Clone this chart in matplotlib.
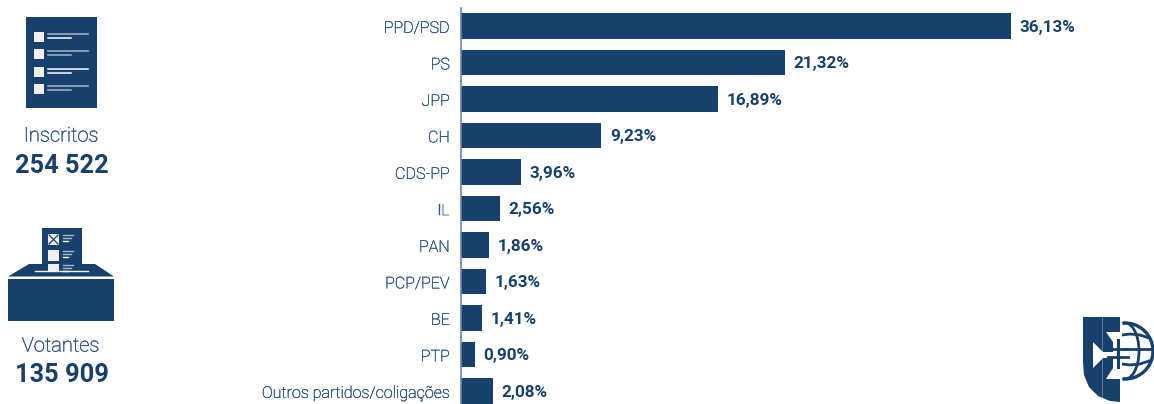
#!/usr/bin/env python
#coding:utf-8

import matplotlib as mpl
mpl.use('Agg')
from matplotlib import pyplot as plt
from matplotlib import patheffects as pe
from matplotlib.patches import Rectangle, Polygon, Arc
from matplotlib.transforms import ScaledTranslation

partidos = ['PPD/PSD', 'PS', 'JPP', 'CH', 'CDS-PP', 'IL', 'PAN', 'PCP/PEV', 'BE', 'PTP',
            'Outros partidos/coligações']
votos = [36.13, 21.32, 16.89, 9.23, 3.96, 2.56, 1.86, 1.63, 1.41, 0.90, 2.08]
inscritos = '254 522'
votantes = '135 909'

AZUL = '#17406d'
TEXTO = '#2f5480'
W, H = 1154, 404

mpl.rcParams['font.family'] = ['Roboto', 'DejaVu Sans']

fig = plt.figure(figsize=(W / 100, H / 100), dpi=100)

# o Roboto Light sai demasiado claro, um traco fino compensa
reforco = [pe.withStroke(linewidth=0.3, foreground=TEXTO)]

# camada de fundo em pixels, para os icones e os totais
bg = fig.add_axes([0, 0, 1, 1])
bg.set_xlim(0, W)
bg.set_ylim(H, 0)
bg.axis('off')

# icone inscritos
cores = [('#a9b6c6', '#ffffff'), ('#a9b6c6', '#a9b6c6'), ('#ffffff', '#ffffff'), ('#a9b6c6', '#a9b6c6')]
bg.add_patch(Rectangle((26, 17), 71, 91, fc=AZUL, ec='none'))
for y, (c1, c2) in zip([32, 49, 67, 84], cores):
    bg.add_patch(Rectangle((34, y), 10, 10, fc='#f0f0f0', ec='none'))
    bg.plot([48, 88], [y + 2, y + 2], color=c1, lw=1.1)
    bg.plot([48, 71], [y + 6, y + 6], color=c2, lw=1.1)

# icone votantes
bg.add_patch(Rectangle((42, 228), 40, 45, fc=AZUL, ec='none'))
for y in [234, 250, 264]:
    bg.add_patch(Rectangle((48, y), 11, 11 if y < 264 else 8, fc='#f0f0f0', ec='none'))
    bg.plot([63, 73], [y + 1, y + 1], color='#a9b6c6', lw=1)
    bg.plot([63, 71], [y + 4, y + 4], color='#a9b6c6', lw=1)
    bg.plot([63, 68], [y + 7, y + 7], color='#ffffff', lw=1)
bg.plot([49, 58], [235, 244], color=AZUL, lw=0.9)
bg.plot([49, 58], [244, 235], color=AZUL, lw=0.9)
bg.add_patch(Polygon([(8, 276.5), (29, 264), (42, 264), (42, 272), (82, 272), (82, 264),
                      (95, 264), (114, 276.5)], fc=AZUL, ec='none'))
bg.add_patch(Rectangle((48, 264), 11, 7, fc='#f0f0f0', ec='none'))
bg.plot([35, 88], [271, 271], color='#f4f4f4', lw=1)
bg.add_patch(Rectangle((8, 279), 106, 42, fc=AZUL, ec='none'))

bg.text(61, 136, 'Inscritos', ha='center', va='center', fontsize=14.5, fontweight='light', color=TEXTO,
        path_effects=reforco)
bg.text(61.5, 166, inscritos, ha='center', va='center', fontsize=18.3, fontweight='bold', color=AZUL)
bg.text(60.5, 346, 'Votantes', ha='center', va='center', fontsize=14.5, fontweight='light', color=TEXTO,
        path_effects=reforco)
bg.text(62, 375, votantes, ha='center', va='center', fontsize=18.3, fontweight='bold', color=AZUL)

# logotipo: globo primeiro, escudo e cruz por cima
bg.add_patch(Arc((1125, 351), 56, 56, theta1=-95, theta2=95, color=AZUL, lw=2.4))
bg.add_patch(Arc((1125, 351), 28, 56, theta1=-95, theta2=95, color=AZUL, lw=2))
bg.plot([1122, 1130, 1140, 1149], [335, 334, 335, 338], color=AZUL, lw=2)
bg.plot([1122, 1153], [349, 349], color=AZUL, lw=2)
bg.plot([1122, 1130, 1140, 1149], [364, 365, 364, 361], color=AZUL, lw=2)
escudo = [(1083, 317), (1120, 317), (1120, 402), (1110, 401), (1098, 396), (1089, 387),
          (1084, 375), (1083, 362)]
bg.add_patch(Polygon(escudo, fc=AZUL, ec='none', zorder=3))
bg.plot([1101.5, 1101.5], [317, 397], color='#6d87a5', lw=0.6, zorder=3)
cruz = [(1106, 332), (1122, 332), (1122, 379), (1106, 379), (1113, 368), (1113, 358), (1103, 358),
        (1093, 368), (1093, 342), (1103, 352), (1113, 352), (1113, 342)]
bg.add_patch(Polygon(cruz, fc='white', ec='none', zorder=4))
bg.plot([1118, 1118], [340, 367], color=AZUL, lw=2.2, zorder=5)
bg.plot([1108, 1128], [349, 349], color=AZUL, lw=2, zorder=5)
bg.plot([1108, 1128], [357, 357], color=AZUL, lw=2, zorder=5)

# grafico de barras
top, bottom = 8, 404
ax = fig.add_axes([461 / W, 1 - bottom / H, (W - 461) / W, (bottom - top) / H])
ax.patch.set_alpha(0)
pos = list(range(len(partidos)))
ax.barh(pos, votos, height=0.71, color=AZUL)
ax.set_xlim(0, (W - 461) / 15.22)
ax.set_ylim(10.0 + 13 / 36.5, -18 / 36.5)
ax.set_yticks(pos)
ax.set_yticklabels(partidos, fontsize=11.6, fontweight='light', color=TEXTO)
ax.tick_params(axis='y', length=0, pad=8)
desce = ScaledTranslation(0, -0.6 / 72, fig.dpi_scale_trans)
for lab in ax.get_yticklabels():
    lab.set_transform(lab.get_transform() + desce)
    lab.set_path_effects(reforco)
ax.set_xticks([])
for s in ['top', 'right', 'bottom']:
    ax.spines[s].set_visible(False)
ax.spines['left'].set_color('#6d87a5')
ax.spines['left'].set_linewidth(1.2)
for i, v in enumerate(votos):
    ax.annotate(f'{v:.2f}%'.replace('.', ','), (v, i), xytext=(6, -0.9), textcoords='offset points',
                va='center', ha='left', fontsize=12.3, fontweight='bold', color=AZUL)

fig.savefig('out.png', dpi=100)
